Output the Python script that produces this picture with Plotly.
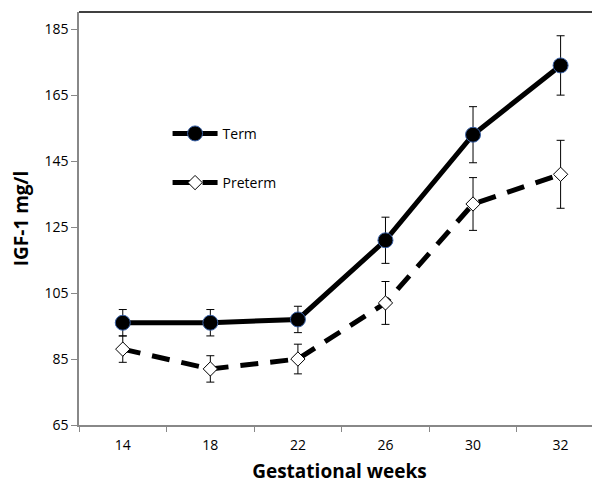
import plotly.graph_objects as go

weeks = ["14", "18", "22", "26", "30", "32"]
term = [96, 96, 97, 121, 153, 174]
term_err = [4, 4, 4, 7, 8.5, 9]
preterm = [88, 82, 85, 102, 132, 141]
preterm_err = [4, 4, 4.5, 6.5, 8, 10.3]
y_ticks = [65, 85, 105, 125, 145, 165, 185]

FONT = "Open Sans"

fig = go.Figure()
fig.add_trace(go.Scatter(
    x=weeks, y=term, name="Term", mode="lines+markers",
    line=dict(color="black", width=5),
    marker=dict(symbol="circle", size=15, color="black",
                line=dict(color="#3a62a8", width=1)),
    error_y=dict(type="data", array=term_err, color="black", thickness=1, width=4),
    legend="legend", showlegend=True,
))
fig.add_trace(go.Scatter(
    x=weeks, y=preterm, name="Preterm", mode="lines+markers",
    line=dict(color="black", width=5, dash="18px,12px"),
    marker=dict(symbol="diamond", size=11, color="white",
                line=dict(color="black", width=1)),
    error_y=dict(type="data", array=preterm_err, color="black", thickness=1, width=4),
    legend="legend2", showlegend=True,
))

legend_common = dict(font=dict(family=FONT, size=14, color="black"),
                     bgcolor="rgba(0,0,0,0)", itemwidth=45,
                     xanchor="left", yanchor="middle")

fig.update_layout(
    width=592, height=479,
    margin=dict(l=71, r=0, t=4, b=62),
    plot_bgcolor="white", paper_bgcolor="white",
    font=dict(family=FONT, color="black"),
    showlegend=True,
    legend=dict(x=0.17, y=0.705, **legend_common),
    legend2=dict(x=0.17, y=0.586, **legend_common),
    xaxis=dict(
        type="category", range=[-0.5, 5.45], automargin=False,
        tickson="boundaries", ticks="outside", ticklen=5, tickcolor="#888888",
        ticklabelstandoff=6,
        showline=True, linecolor="#888888", linewidth=1.5,
        showgrid=False, zeroline=False,
        tickfont=dict(family=FONT, size=14, color="black"),
        title=dict(text="<b>Gestational weeks</b>", font=dict(family=FONT, size=19), standoff=12),
    ),
    yaxis=dict(
        range=[65, 190.2], tickvals=y_ticks, automargin=False,
        ticks="outside", ticklen=6, tickcolor="#888888",
        showline=True, linecolor="#888888", linewidth=1.5,
        showgrid=False, zeroline=False,
        tickfont=dict(family=FONT, size=14, color="black"),
        title=dict(text="<b>IGF-1 mg/l</b>", font=dict(family=FONT, size=19), standoff=15),
    ),
)
fig.add_shape(type="line", xref="paper", yref="paper", x0=0, x1=1, y0=1, y1=1,
              line=dict(color="black", width=1.5))

fig.write_html("out.html")
